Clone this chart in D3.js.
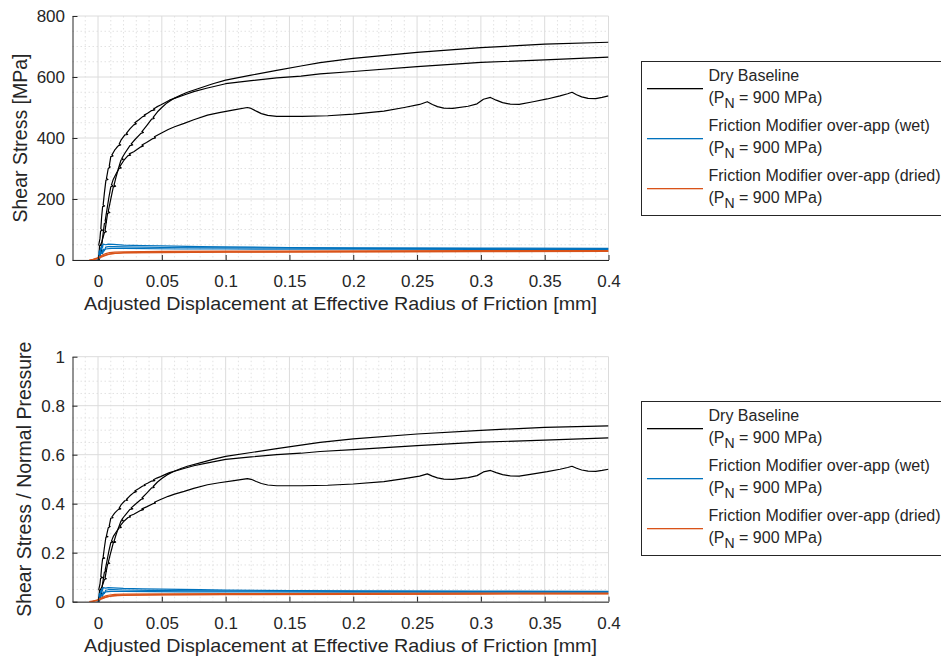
<!DOCTYPE html>
<html lang="en">
<head>
<meta charset="utf-8">
<title>Shear stress vs adjusted displacement</title>
<script src="https://cdn.jsdelivr.net/npm/d3@7"></script>
<style>
  body { margin: 0; background: #fff; }
  svg { display: block; font-family: "Liberation Sans", Arial, sans-serif; }
  .tick text { fill: #262626; }
  .domain { stroke: #262626; }
  .tick line { stroke: #262626; }
</style>
</head>
<body>
<svg id="chart" width="941" height="658"></svg>
<script>
// ---- data (x in mm, shear stress in MPa) ----
const xTicks = [0, 0.05, 0.1, 0.15, 0.2, 0.25, 0.3, 0.35, 0.4];
const xTickLabels = ["0", "0.05", "0.1", "0.15", "0.2", "0.25", "0.3", "0.35", "0.4"];
const stressTicks = [0, 200, 400, 600, 800];
const ratioTicks = [0, 0.2, 0.4, 0.6, 0.8, 1];
const ratioTickLabels = ["0", "0.2", "0.4", "0.6", "0.8", "1"];

const seriesNames = ["Dry Baseline", "Friction Modifier over-app (wet)", "Friction Modifier over-app (dried)"];
const seriesColors = ["#000000", "#0072BD", "#D95319"];
const nominalPressure = "900 MPa";
// measured normal pressure per series used to get the ratio in the lower plot
const normalPressure = [995, 900, 880];

const dryA = [[0,0],[0.0008,20],[0.0012,45],[0.0006,50],[0.0015,70],[0.002,95],[0.0035,98],[0.0022,102],[0.0028,140],[0.0036,175],[0.0052,177],[0.004,180],[0.005,220],[0.0062,262],[0.0078,264],[0.0066,267],[0.008,300],[0.0095,305],[0.0088,308],[0.010,339],[0.0118,341],[0.0108,344],[0.013,360],[0.0145,368],[0.016,375],[0.0178,377],[0.0166,380],[0.018,393],[0.021,410],[0.0232,412],[0.0222,415],[0.025,430],[0.028,443],[0.030,447],[0.0288,450],[0.032,460],[0.035,470],[0.037,472],[0.0362,475],[0.0388,481],[0.042,490],[0.0445,492],[0.0435,495],[0.046,502],[0.049,508],[0.052,515],[0.056,524],[0.062,533],[0.068,542],[0.075,552],[0.085,563],[0.1,578],[0.12,588],[0.14,597],[0.159,603],[0.174,610],[0.2,618],[0.25,634],[0.3,648],[0.35,656],[0.4,665]];
const dryB = [[0.001,0],[0.002,20],[0.0028,45],[0.0018,48],[0.003,60],[0.004,75],[0.005,90],[0.0065,93],[0.0055,96],[0.0065,125],[0.0075,153],[0.0092,156],[0.008,159],[0.0095,190],[0.011,220],[0.012,240],[0.0138,242],[0.0126,246],[0.014,270],[0.016,300],[0.018,328],[0.0198,330],[0.0186,333],[0.021,350],[0.025,375],[0.0272,377],[0.026,381],[0.029,395],[0.0336,415],[0.0356,418],[0.0344,421],[0.038,440],[0.042,462],[0.044,464],[0.0432,468],[0.0466,486],[0.050,500],[0.054,515],[0.0596,530],[0.065,541],[0.070,550],[0.080,564],[0.09,578],[0.1,590],[0.12,606],[0.14,622],[0.159,636],[0.174,647],[0.2,661],[0.25,681],[0.3,696],[0.35,708],[0.4,714]];
const dryC = [[0,0],[0.001,8],[0.002,23],[0.0035,26],[0.0025,30],[0.0035,70],[0.005,120],[0.0066,124],[0.0056,128],[0.007,165],[0.0085,205],[0.01,240],[0.0118,243],[0.0106,247],[0.012,265],[0.0145,285],[0.0165,300],[0.0182,302],[0.017,306],[0.0205,328],[0.0235,342],[0.0255,344],[0.0245,348],[0.028,355],[0.0336,371],[0.0356,374],[0.0344,377],[0.038,385],[0.043,398],[0.045,400],[0.0442,404],[0.049,415],[0.055,428],[0.06,437],[0.0675,448],[0.075,460],[0.0858,475],[0.095,483],[0.1066,492],[0.117,500],[0.12,497],[0.124,488],[0.128,480],[0.133,474],[0.14,471],[0.16,471],[0.18,473],[0.2,478],[0.224,488],[0.24,500],[0.252,510],[0.258,519],[0.262,510],[0.266,503],[0.271,498],[0.278,497],[0.29,504],[0.297,512],[0.302,527],[0.3075,533],[0.312,524],[0.317,516],[0.323,511],[0.33,510],[0.34,518],[0.352,528],[0.362,538],[0.368,545],[0.3714,550],[0.375,542],[0.379,535],[0.384,530],[0.39,529],[0.395,533],[0.4,538]];

const wetA = [[-0.001,0],[0.0005,12],[0.001,30],[0.0015,20],[0.002,40],[0.0025,32],[0.003,48],[0.0035,40],[0.004,52],[0.006,50],[0.008,52],[0.012,51],[0.02,49],[0.035,47],[0.05,46],[0.08,44],[0.1,43],[0.15,41],[0.2,40],[0.3,39],[0.4,38]];
const wetB = [[0,0],[0.001,18],[0.0015,10],[0.002,28],[0.003,22],[0.004,36],[0.005,30],[0.006,42],[0.008,44],[0.012,44],[0.02,43],[0.05,41],[0.1,40],[0.2,38],[0.3,37],[0.4,36]];
const wetC = [[0.0005,0],[0.0015,15],[0.0025,25],[0.0035,20],[0.0045,32],[0.006,36],[0.01,38],[0.02,38],[0.065,36],[0.1,36],[0.2,35.5],[0.3,35],[0.4,35]];

const driedA = [[-0.007,0],[-0.004,2],[-0.001,6],[0.002,12],[0.004,17],[0.006,21],[0.009,24],[0.013,26],[0.02,27],[0.05,28],[0.1,29],[0.2,30],[0.3,30.5],[0.4,31]];
const driedB = [[-0.006,0],[-0.003,2],[0,5],[0.003,10],[0.006,15],[0.009,19],[0.013,22],[0.02,24],[0.05,25.5],[0.1,26.5],[0.2,27.5],[0.3,28.5],[0.4,29]];
const driedC = [[-0.005,0],[-0.002,3],[0.001,8],[0.004,14],[0.007,18],[0.011,21],[0.02,23],[0.05,24.5],[0.1,25.5],[0.2,26.5],[0.3,27.5],[0.4,28]];

const groups = [[dryA, dryB, dryC], [wetA, wetB, wetC], [driedA, driedB, driedC]];

// ---- layout ----
const svg = d3.select("#chart");
const left = 72.5, right = 608.5;
const x = d3.scaleLinear().domain([-0.02, 0.4]).range([left, right]);

function drawPanel(p) {
  const y = d3.scaleLinear().domain(p.domain).range([p.bottom, p.top]);
  const g = svg.append("g");

  const clipId = "clip" + p.id;
  svg.append("clipPath").attr("id", clipId)
    .append("rect").attr("x", left).attr("y", p.top - 1)
    .attr("width", right - left).attr("height", p.bottom - p.top + 1);

  // minor grid (dotted)
  const xMinor = d3.range(-0.01, 0.4001, 0.01).filter(v => Math.abs(v / 0.05 - Math.round(v / 0.05)) > 1e-6);
  const yMinor = d3.range(p.domain[0], p.domain[1] + 1e-9, p.minorStep)
    .filter(v => Math.abs(v / p.majorStep - Math.round(v / p.majorStep)) > 1e-6);
  g.append("g").selectAll("line").data(xMinor).join("line")
    .attr("x1", d => x(d)).attr("x2", d => x(d)).attr("y1", p.top).attr("y2", p.bottom)
    .attr("stroke", "#e2e2e2").attr("stroke-dasharray", "1.5,2.5");
  g.append("g").selectAll("line").data(yMinor).join("line")
    .attr("x1", left).attr("x2", right).attr("y1", d => y(d)).attr("y2", d => y(d))
    .attr("stroke", "#e2e2e2").attr("stroke-dasharray", "1.5,2.5");

  // major grid
  g.append("g").selectAll("line").data(xTicks).join("line")
    .attr("x1", d => x(d)).attr("x2", d => x(d)).attr("y1", p.top).attr("y2", p.bottom)
    .attr("stroke", "#dcdcdc");
  g.append("g").selectAll("line").data(p.ticks).join("line")
    .attr("x1", left).attr("x2", right).attr("y1", d => y(d)).attr("y2", d => y(d))
    .attr("stroke", "#dcdcdc");

  // curves
  const curves = g.append("g").attr("clip-path", `url(#${clipId})`);
  groups.forEach((grp, gi) => {
    const line = d3.line().x(d => x(d[0])).y(d => y(p.value(d[1], gi)));
    grp.forEach(series => {
      curves.append("path")
        .attr("fill", "none")
        .attr("stroke", seriesColors[gi])
        .attr("stroke-width", 1.2)
        .attr("stroke-linejoin", "round")
        .attr("d", line(series));
    });
  });

  // axes
  g.append("g")
    .attr("transform", `translate(0,${p.bottom})`)
    .call(d3.axisBottom(x).tickValues(xTicks).tickFormat((d, i) => xTickLabels[i])
      .tickSizeInner(-5).tickSizeOuter(0).tickPadding(15))
    .call(a => a.selectAll("text").attr("font-size", 17));
  g.append("g")
    .attr("transform", `translate(${left},0)`)
    .call(d3.axisLeft(y).tickValues(p.ticks).tickFormat((d, i) => p.labels[i])
      .tickSizeInner(-5).tickSizeOuter(0).tickPadding(7.5))
    .call(a => a.selectAll("text").attr("font-size", 17));

  // axis titles
  svg.append("text")
    .attr("x", (left + right) / 2).attr("y", p.bottom + 50)
    .attr("text-anchor", "middle").attr("fill", "#262626").attr("font-size", 18.5)
    .attr("textLength", 513).attr("lengthAdjust", "spacingAndGlyphs")
    .text("Adjusted Displacement at Effective Radius of Friction [mm]");
  svg.append("text")
    .attr("transform", `translate(${p.yLabelX},${(p.top + p.bottom) / 2}) rotate(-90)`)
    .attr("text-anchor", "middle").attr("fill", "#262626").attr("font-size", 19.5)
    .text(p.yLabel);

  // legend
  const lg = svg.append("g").attr("transform", `translate(641.5,${p.legendTop})`);
  lg.append("rect").attr("x", 0).attr("y", 0).attr("width", 310).attr("height", 154)
    .attr("fill", "#fff").attr("stroke", "#262626").attr("stroke-width", 1);
  seriesNames.forEach((name, i) => {
    const row = lg.append("g").attr("transform", `translate(0,${i * 50})`);
    row.append("rect").attr("x", 5.5).attr("y", 26.5).attr("width", 56).attr("height", 1.3)
      .attr("fill", seriesColors[i]);
    row.append("text").attr("x", 67).attr("y", 19.7).attr("font-size", 16).attr("fill", "#262626")
      .text(name);
    const t = row.append("text").attr("x", 67).attr("y", 41.7).attr("font-size", 16).attr("fill", "#262626");
    t.append("tspan").text("(P");
    t.append("tspan").attr("dy", 5).attr("font-size", 14).text("N");
    t.append("tspan").attr("dy", -5).text(" = " + nominalPressure + ")");
  });
}

drawPanel({
  id: 1, top: 16, bottom: 260, domain: [0, 800], ticks: stressTicks,
  labels: stressTicks.map(String), majorStep: 200, minorStep: 50,
  yLabel: "Shear Stress [MPa]", yLabelX: 27, legendTop: 61.5,
  value: (v, gi) => v
});
drawPanel({
  id: 2, top: 356.7, bottom: 601.7, domain: [0, 1], ticks: ratioTicks,
  labels: ratioTickLabels, majorStep: 0.2, minorStep: 0.05,
  yLabel: "Shear Stress / Normal Pressure", yLabelX: 31, legendTop: 401.5,
  value: (v, gi) => v / normalPressure[gi]
});
</script>
</body>
</html>
